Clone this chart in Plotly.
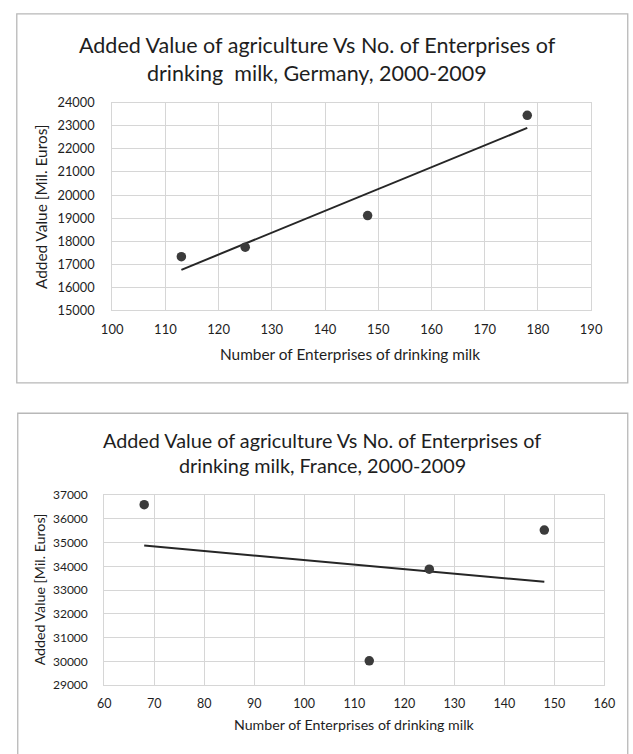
import numpy as np
import plotly.graph_objects as go

# Number of drinking-milk enterprises vs. added value of agriculture (Mil. Euros)
germany_enterprises = [113, 125, 148, 178]
germany_added_value = [17330, 17740, 19110, 23450]
france_enterprises = [68, 113, 125, 148]
france_added_value = [36600, 30020, 33880, 35530]

germany_title = ["Added Value of agriculture Vs No. of Enterprises of",
                 "drinking  milk, Germany, 2000-2009"]
france_title = ["Added Value of agriculture Vs No. of Enterprises of",
                "drinking milk, France, 2000-2009"]
x_title = "Number of Enterprises of drinking milk"
y_title = "Added Value [Mil. Euros]"

W, H = 633, 754
FONT = "Lato"
GRID = "#d6d6d6"
MARK = "#3b3b3b"
LINE = "#262626"
TEXT = "#1e1e1e"


def px(x):
    return x / W


def py(y):
    return 1 - y / H


def trend(xs, ys):
    slope, intercept = np.polyfit(xs, ys, 1)
    tx = np.array([min(xs), max(xs)], dtype=float)
    return tx, slope * tx + intercept


fig = go.Figure()

panels = [
    dict(xs=germany_enterprises, ys=germany_added_value, xa="x", ya="y"),
    dict(xs=france_enterprises, ys=france_added_value, xa="x2", ya="y2"),
]
for p in panels:
    tx, ty = trend(p["xs"], p["ys"])
    fig.add_trace(go.Scatter(x=tx, y=ty, mode="lines", xaxis=p["xa"], yaxis=p["ya"],
                             line=dict(color=LINE, width=2), showlegend=False, hoverinfo="skip"))
    fig.add_trace(go.Scatter(x=p["xs"], y=p["ys"], mode="markers", xaxis=p["xa"], yaxis=p["ya"],
                             marker=dict(color=MARK, size=9.5), showlegend=False))


def axis_style(size, standoff):
    return dict(showgrid=True, gridcolor=GRID, gridwidth=1, zeroline=False,
                showline=True, linecolor=GRID, linewidth=1, mirror=True,
                ticks="", tickformat="d",
                tickfont=dict(family=FONT, size=size, color=TEXT),
                ticklabelstandoff=standoff, fixedrange=True)


fig.update_layout(
    width=W, height=H, autosize=False,
    margin=dict(l=0, r=0, t=0, b=0),
    paper_bgcolor="white", plot_bgcolor="white",
    xaxis=dict(domain=[px(105), px(602)], range=[100, 190], dtick=10, anchor="y",
               **axis_style(13, 7)),
    yaxis=dict(domain=[py(308), py(95.7)], range=[15000, 24000], dtick=1000, anchor="x",
               **axis_style(12.8, 14)),
    xaxis2=dict(domain=[px(96.7), px(615.7)], range=[60, 160], dtick=10, anchor="y2",
                **axis_style(12.5, 7)),
    yaxis2=dict(domain=[py(690.7), py(496.7)], range=[29000, 37000], dtick=1000, anchor="x2",
                **axis_style(12, 13)),
)

# Chart frames
fig.add_shape(type="rect", xref="paper", yref="paper",
              x0=px(6), x1=px(640), y0=py(382), y1=py(5),
              line=dict(color="#b8b8b8", width=1.3), fillcolor="rgba(0,0,0,0)", layer="below")
fig.add_shape(type="rect", xref="paper", yref="paper",
              x0=px(7), x1=px(640), y0=py(770), y1=py(413),
              line=dict(color="#b8b8b8", width=1.3), fillcolor="rgba(0,0,0,0)", layer="below")

annotations = [
    dict(text=germany_title[0], x=px(318), y=py(37), size=21.5),
    dict(text=germany_title[1], x=px(318), y=py(65), size=21.5),
    dict(text=france_title[0], x=px(323), y=py(440), size=19.8),
    dict(text=france_title[1], x=px(323), y=py(466), size=19.8),
    dict(text=x_title, x=px(352), y=py(352), size=15.4),
    dict(text=x_title, x=px(356), y=py(731.5), size=14.2),
    dict(text=y_title, x=px(31), y=py(201.5), size=15.4, angle=-90),
    dict(text=y_title, x=px(29), y=py(593), size=14.2, angle=-90),
]
for a in annotations:
    fig.add_annotation(text=a["text"], x=a["x"], y=a["y"], xref="paper", yref="paper",
                       xanchor="center", yanchor="middle", showarrow=False,
                       textangle=a.get("angle", 0),
                       font=dict(family=FONT, size=a["size"], color=TEXT))

fig.write_html("out.html")
